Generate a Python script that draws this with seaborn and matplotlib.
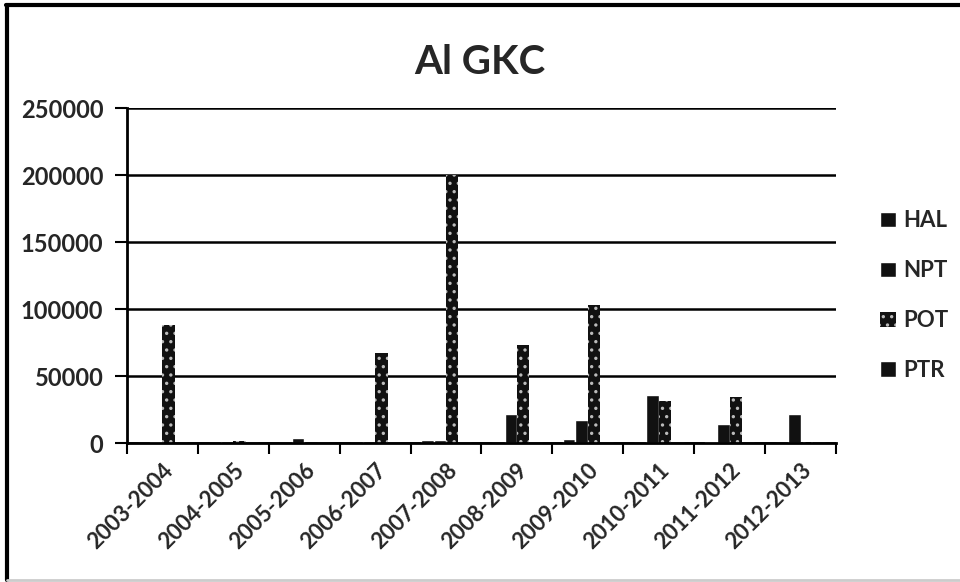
import seaborn as sns
import matplotlib.pyplot as plt
import pandas as pd
from matplotlib.lines import Line2D

# values
years = ['2003-2004', '2004-2005', '2005-2006', '2006-2007', '2007-2008',
         '2008-2009', '2009-2010', '2010-2011', '2011-2012', '2012-2013']
series = ['HAL', 'NPT', 'POT', 'PTR']
hal = [0, 0, 0, 0, 2000, 0, 3000, 0, 500, 0]
npt = [1000, 1200, 3500, 1500, 2000, 22000, 17000, 36000, 14500, 22000]
pot = [88000, 1200, 0, 67000, 200000, 73000, 103000, 31000, 34000, 800]
ptr = [0, 0, 0, 0, 0, 0, 0, 0, 0, 0]

rows = []
for name, vals in zip(series, [hal, npt, pot, ptr]):
    for yr, v in zip(years, vals):
        rows.append({'year': yr, 'series': name, 'value': v})
df = pd.DataFrame(rows)

sns.set_style('white')
plt.rcParams['font.family'] = ['Lato', 'DejaVu Sans']
plt.rcParams['font.weight'] = 'bold'
plt.rcParams['hatch.linewidth'] = 1.2

fig = plt.figure(figsize=(9.6, 5.82), dpi=100)
ax = fig.add_axes([0.1323, 0.2388, 0.7385, 0.5756])

sns.barplot(data=df, x='year', y='value', hue='series', order=years,
            hue_order=series, palette=['#111111', '#111111', '#111111', '#111111'],
            width=0.7, gap=0, saturation=1, legend=False, ax=ax)

# stippled POT bars (dark with light specks)
for p in ax.containers[2]:
    p.set_edgecolor('#bbbbbb')
    p.set_hatch('..')
    p.set_linewidth(0)

ax.set_ylim(0, 250000)
ax.set_xlim(-0.5, len(years) - 0.5)
ax.set_yticks(range(0, 250001, 50000))
ax.set_yticklabels([str(v) for v in range(0, 250001, 50000)], fontsize=17, fontweight='bold')
ax.yaxis.grid(True, color='black', linewidth=1.8)
ax.set_axisbelow(True)
ax.tick_params(axis='y', left=True, length=9, width=1.5, color='black', pad=8)

ax.set_xticks(range(len(years)))
ax.set_xticklabels(years, rotation=45, ha='right', rotation_mode='anchor',
                   fontsize=16, fontweight='bold')
ax.tick_params(axis='x', which='major', length=0, pad=12)
ax.set_xticks([i - 0.5 for i in range(len(years) + 1)], minor=True)
ax.tick_params(axis='x', which='minor', bottom=True, length=8, width=1.5, color='black')

for side in ['top', 'right']:
    ax.spines[side].set_visible(False)
for side in ['left', 'bottom']:
    ax.spines[side].set_color('black')
    ax.spines[side].set_linewidth(2)

ax.set_xlabel('')
ax.set_ylabel('')
fig.text(0.5, 0.893, 'Al GKC', ha='center', va='center', fontsize=29, fontweight='bold')

handles = [ax.containers[i] for i in range(4)]
ax.legend(handles, series, loc='center left', bbox_to_anchor=(1.0, 0.44),
          frameon=False, fontsize=16, handlelength=0.7, handleheight=0.7,
          handletextpad=0.35, labelspacing=1.3, borderaxespad=1.6)

# outer frame like the scanned chart
fig.add_artist(Line2D([0.006, 1.0], [0.991, 0.991], color='black', lw=3, transform=fig.transFigure))
fig.add_artist(Line2D([0.007, 0.007], [0.003, 0.991], color='black', lw=3, transform=fig.transFigure))
fig.add_artist(Line2D([0.007, 1.0], [0.004, 0.004], color='#cccccc', lw=2, transform=fig.transFigure))

fig.savefig('out.png', dpi=100)
